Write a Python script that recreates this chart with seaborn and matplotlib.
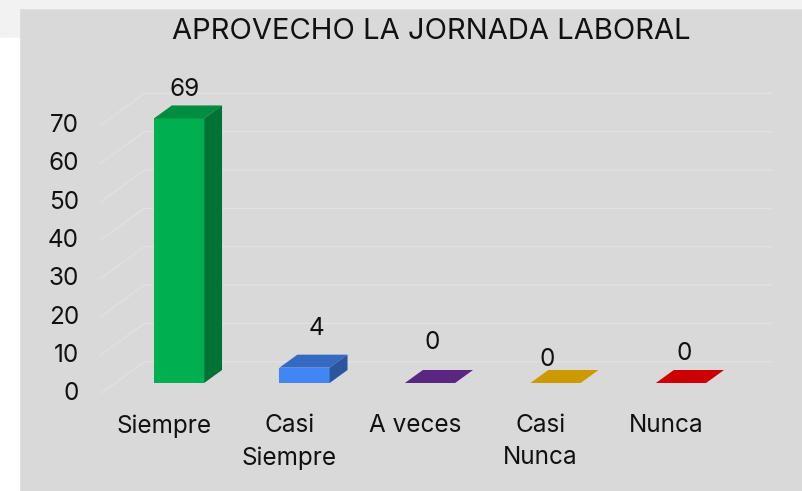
import matplotlib
matplotlib.use("Agg")
import matplotlib.pyplot as plt
from matplotlib.patches import Polygon, Rectangle
from matplotlib.transforms import offset_copy
import matplotlib.colors as mcolors
import seaborn as sns

# datos
categorias = ["Siempre", "Casi\nSiempre", "A veces", "Casi\nNunca", "Nunca"]
valores = [69, 4, 0, 0, 0]
colores = ["#00b050", "#4285f4", "#7030a0", "#ffc000", "#ff0000"]
ticks_y = [0, 10, 20, 30, 40, 50, 60, 70]
titulo = "APROVECHO LA JORNADA LABORAL"

# desplazamiento de las etiquetas de valor (px)
offs_etiquetas = [(6, 22), (12, 33), (2, 34), (-8, 17), (3, 23)]

sns.set_theme(style="white")
plt.rcParams["font.family"] = ["Inter", "DejaVu Sans"]

W, H = 802, 491
fig = plt.figure(figsize=(W / 100, H / 100), dpi=100, facecolor="#d9d9d9")

# marco claro arriba / izquierda
fig.patches.append(Rectangle((0, 1 - 8 / H), 1, 8 / H, transform=fig.transFigure,
                             color="#f2f2f2", zorder=0))
fig.patches.append(Rectangle((0, 1 - 38 / H), 19 / W, 30 / H, transform=fig.transFigure,
                             color="#f2f2f2", zorder=0))
fig.patches.append(Rectangle((0, 0), 19 / W, 1 - 38 / H, transform=fig.transFigure,
                             color="white", zorder=0))

ax = fig.add_axes([100 / W, (H - 400) / H, 680 / W, 320 / H])
ax.set_facecolor("none")

sns.barplot(x=categorias, y=valores, hue=categorias, palette=colores,
            width=0.4, saturation=1, legend=False, ax=ax, zorder=2)

ax.set_xlim((100 - 179) / 125.5, (780 - 179) / 125.5)
ax.set_ylim((383 - 400) / 3.834, (383 - 80) / 3.834)
for s in ax.spines.values():
    s.set_visible(False)
ax.set_xticks([])
ax.set_yticks([])
ax.set_xlabel("")
ax.set_ylabel("")

PEND = 1.38  # pendiente de la profundidad (px x por px y)


def mover(x, y, k):
    px, py = ax.transData.transform((x, y))
    return tuple(ax.transData.inverted().transform((px + k * PEND, py + k)))


# paredes: lateral y fondo
xs, xe = -0.51, 4.49
k_frente, k_fondo = -11, 21.3
for v in ticks_y:
    a = mover(xs, v, k_frente)
    b = mover(xs, v, k_fondo)
    c = mover(xe, v, k_fondo)
    ax.plot([a[0], b[0], c[0]], [a[1], b[1], c[1]], color="#e1e1e1", lw=1, zorder=0.5)
    ax.text(xs, v, str(v), ha="right", va="center", fontsize=17.5, color="#111111",
            transform=offset_copy(ax.transData, fig=fig, x=-36, y=-11, units="dots"))

# caras superior y lateral de las barras
prof = 13
for p, col in zip(ax.patches, colores):
    x0 = p.get_x()
    x1 = x0 + p.get_width()
    h = p.get_height()
    c = mcolors.to_rgb(col)
    arriba = tuple(v * 0.8 for v in c)
    lado = tuple(v * 0.65 for v in c)
    ax.add_patch(Polygon([(x0, h), (x1, h), mover(x1, h, prof), mover(x0, h, prof)],
                         closed=True, facecolor=arriba, edgecolor="none", zorder=2))
    if h > 0:
        ax.add_patch(Polygon([(x1, 0), (x1, h), mover(x1, h, prof), mover(x1, 0, prof)],
                             closed=True, facecolor=lado, edgecolor="none", zorder=2))
    p.set_edgecolor("none")

# etiquetas de valor
for i, (v, (dx, dy)) in enumerate(zip(valores, offs_etiquetas)):
    ax.text(i, v, str(v), ha="center", va="baseline", fontsize=17.5, color="#111111",
            transform=offset_copy(ax.transData, fig=fig, x=dx, y=dy, units="dots"))

# etiquetas de categoria
for i, cat in enumerate(categorias):
    ax.text(i, 0, cat, ha="center", va="top", fontsize=17.5, color="#111111",
            linespacing=1.52,
            transform=offset_copy(ax.transData, fig=fig, x=-15, y=-31, units="dots"))

fig.text(431 / W, 1 - 39 / H, titulo, ha="center", va="baseline", fontsize=21,
         color="#111111")

fig.savefig("out.png", dpi=100, facecolor=fig.get_facecolor())
